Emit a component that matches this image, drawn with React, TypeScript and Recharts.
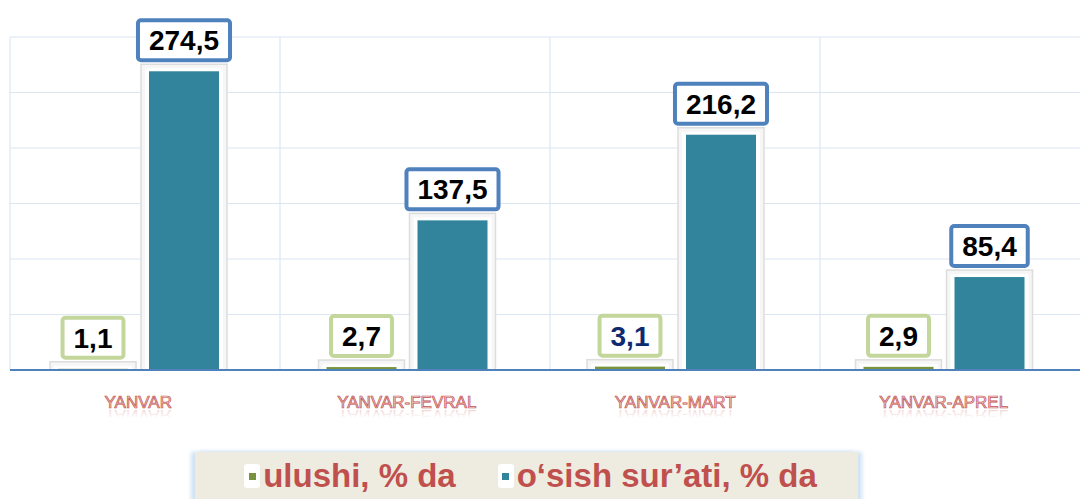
import React from 'react';
import { BarChart, Bar, XAxis, YAxis, CartesianGrid, LabelList } from 'recharts';

const categories = ['YANVAR', 'YANVAR-FEVRAL', 'YANVAR-MART', 'YANVAR-APREL'];
const ulushi = [1.1, 2.7, 3.1, 2.9];
const osish = [274.5, 137.5, 216.2, 85.4];
const ulushiLabelColors = ['#000000', '#000000', '#0D2B6E', '#000000'];
const yTicks = [0, 51, 102, 153, 204, 255, 306];

const data = categories.map((name, i) => ({
  name,
  ulushi: ulushi[i],
  osish: osish[i],
}));

const FONT = '"Liberation Sans", Arial, sans-serif';
const RED = '#C0504D';
const TEAL = '#31849B';
const GREEN = '#77933C';

const fmt = (v: number) => v.toFixed(1).replace('.', ',');

const textWidth = (s: string, size: number) =>
  s.split('').reduce((w, c) => w + (c === ',' ? 0.278 : 0.556) * size, 0);

const ShadowBar = (props: any) => {
  const { x, y, width, height, fill } = props;
  const bottom = y + height;
  return (
    <g>
      <rect x={x - 8} y={y - 7} width={width + 16} height={bottom - y + 7} fill="#f6f6f6" stroke="#dddddd" strokeWidth={1.5} />
      <rect x={x - 4} y={y - 3} width={width + 8} height={bottom - y + 3} fill="#ffffff" />
      <rect x={x} y={y} width={width} height={Math.max(height - 1, 0)} fill={fill} />
    </g>
  );
};

const makeBoxLabel = (border: string, colors?: string[]) => (props: any) => {
  const { x, y, width, value, index } = props;
  const text = fmt(Number(value));
  const size = 28;
  const w = textWidth(text, size) + 22;
  const h = 40;
  const cx = x + width / 2;
  const boxBottom = y - 11;
  return (
    <g>
      <rect x={cx - w / 2} y={boxBottom - h} width={w} height={h} rx={3} fill="#ffffff" stroke={border} strokeWidth={4} />
      <text x={cx} y={boxBottom - 10} textAnchor="middle" fontFamily={FONT} fontWeight="bold" fontSize={size} fill={colors ? colors[index] : '#000000'}>
        {text}
      </text>
    </g>
  );
};

const XTick = (props: any) => {
  const { x, y, payload } = props;
  const base = y + 30;
  return (
    <g>
      <defs>
        <linearGradient id={`fade-${payload.index}`} x1="0" y1="0" x2="0" y2="1">
          <stop offset="35%" stopColor={RED} stopOpacity={0} />
          <stop offset="100%" stopColor={RED} stopOpacity={0.35} />
        </linearGradient>
      </defs>
      <text x={x} y={-(base + 2)} transform="scale(1,-1)" textAnchor="middle" fontFamily={FONT} fontSize={17} fill={`url(#fade-${payload.index})`}>
        {payload.value}
      </text>
      <text x={x} y={base} textAnchor="middle" fontFamily={FONT} fontSize={17} fill="#f6d2d1" stroke={RED} strokeWidth={0.7}>
        {payload.value}
      </text>
    </g>
  );
};

const LegendItem = ({ color, label, gap }: { color: string; label: string; gap: number }) => (
  <div style={{ display: 'flex', alignItems: 'center', marginRight: gap }}>
    <div style={{ width: 16, height: 24, background: '#fff', borderRadius: 3, display: 'flex', alignItems: 'center', justifyContent: 'center', marginRight: 3 }}>
      <div style={{ width: 7, height: 7, background: color }} />
    </div>
    <span style={{ fontFamily: FONT, fontWeight: 'bold', fontSize: 33, color: RED, lineHeight: '34px' }}>{label}</span>
  </div>
);

export default function App() {
  return (
    <div style={{ position: 'absolute', left: 0, top: 0, width: 1080, height: 499, overflow: 'hidden', background: '#fff' }}>
      <BarChart width={1090} height={499} data={data} margin={{ top: 37, right: 0, left: 10, bottom: 99 }} barSize={70} barGap={21}>
        <CartesianGrid
          stroke="#dce6f2"
          strokeWidth={1.2}
          verticalCoordinatesGenerator={({ offset }: any) => [0, 1, 2, 3, 4].map((i) => offset.left + (i * offset.width) / 4)}
        />
        <YAxis hide domain={[0, 306]} ticks={yTicks} />
        <XAxis
          dataKey="name"
          tickLine={false}
          axisLine={{ stroke: '#4F81BD', strokeWidth: 2 }}
          tick={<XTick />}
          height={30}
          interval={0}
          padding={{ left: -6, right: 12 }}
        />
        <Bar dataKey="ulushi" fill={GREEN} shape={<ShadowBar />} isAnimationActive={false}>
          <LabelList dataKey="ulushi" content={makeBoxLabel('#C3D69B', ulushiLabelColors)} />
        </Bar>
        <Bar dataKey="osish" fill={TEAL} shape={<ShadowBar />} isAnimationActive={false}>
          <LabelList dataKey="osish" content={makeBoxLabel('#4F81BD')} />
        </Bar>
      </BarChart>
      <div
        style={{
          position: 'absolute',
          left: 195,
          top: 452,
          width: 663,
          height: 50,
          background: '#EEECE1',
          boxShadow: '-4px 0 4px #cfe2f3, 4px 0 4px #cfe2f3',
          display: 'flex',
          alignItems: 'flex-start',
          justifyContent: 'center',
          paddingLeft: 8,
          paddingTop: 7,
          boxSizing: 'border-box',
        }}
      >
        <LegendItem color={GREEN} label="ulushi, % da" gap={42} />
        <LegendItem color={TEAL} label="o‘sish sur’ati, % da" gap={0} />
      </div>
    </div>
  );
}
